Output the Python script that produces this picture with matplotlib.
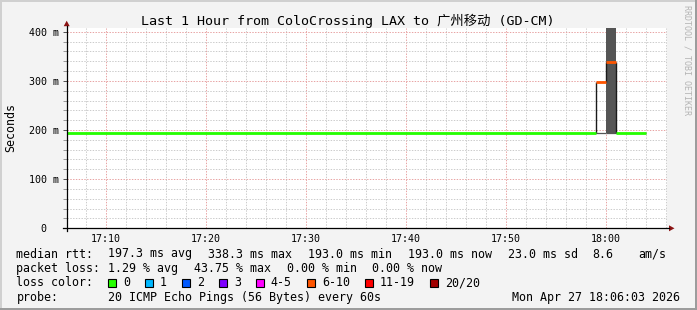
import matplotlib
matplotlib.use("Agg")
import matplotlib.pyplot as plt
from matplotlib.ticker import MultipleLocator, FixedLocator
from matplotlib.patches import Rectangle, Polygon
from matplotlib.lines import Line2D

# ---------------- data ----------------
title = "Last 1 Hour from ColoCrossing LAX to 广州移动 (GD-CM)"
# time in minutes after 17:00
seg_start = [6.05, 59.0, 60.0, 61.0]
seg_end = [59.0, 60.0, 61.0, 64.0]
median_ms = [193.0, 297.5, 338.3, 193.0]
loss_class = [0, 5, 5, 0]
smoke_lo = [193.0, 193.0, 194.5, 193.0]
smoke_hi = [193.0, 193.0, 460.0, 193.0]

x_tick_min = [10, 20, 30, 40, 50, 60]
x_tick_labels = ["17:10", "17:20", "17:30", "17:40", "17:50", "18:00"]
y_ticks = [0, 100, 200, 300, 400]
y_tick_labels = ["  0", "100 m", "200 m", "300 m", "400 m"]

loss_labels = ["0", "1", "2", "3", "4-5", "6-10", "11-19", "20/20"]
loss_colors = ["#26ff00", "#00b8ff", "#0059ff", "#7e00ff", "#ff00ff",
               "#ff5500", "#ff0000", "#a10000"]

rtt_items = ["197.3 ms avg", "338.3 ms max", "193.0 ms min", "193.0 ms now",
             "23.0 ms sd", "8.6", "am/s"]
loss_items = ["1.29 % avg", "43.75 % max", "0.00 % min", "0.00 % now"]
probe_text = "20 ICMP Echo Pings (56 Bytes) every 60s"
date_text = "Mon Apr 27 18:06:03 2026"

# ---------------- layout ----------------
W, H = 697, 310
fig = plt.figure(figsize=(W / 100, H / 100), dpi=100)
fig.patch.set_facecolor("#f3f3f3")

def fx(px):
    return px / W

def fy(py):
    return 1 - py / H

MONO = "DejaVu Sans Mono"
X0, X1 = 66.7, 666.7
Y0, YT = 228.3, 28.0
ax = fig.add_axes([fx(X0), fy(Y0), (X1 - X0) / W, (Y0 - YT) / H])
ax.set_facecolor("white")
ax.set_xlim(6.05, 66.05)
ax.set_ylim(0, 407.5)
for s in ax.spines.values():
    s.set_visible(False)

# grid
ax.xaxis.set_major_locator(FixedLocator(x_tick_min))
ax.xaxis.set_minor_locator(MultipleLocator(2))
ax.yaxis.set_major_locator(FixedLocator(y_ticks))
ax.yaxis.set_minor_locator(MultipleLocator(20))
ax.set_axisbelow(True)
ax.grid(which="minor", color="#cccccc", lw=0.72, linestyle=(0, (1.4, 1.4)))
ax.grid(which="major", color="#e8a4a4", lw=0.72, linestyle=(0, (1.4, 1.4)))

ax.set_xticklabels(x_tick_labels, family=MONO, fontsize=7.2)
ax.set_yticklabels(y_tick_labels, family=MONO, fontsize=7.2, ha="left")
ax.tick_params(axis="x", which="both", length=0, pad=4)
ax.tick_params(axis="y", which="both", direction="out", length=2.6,
               width=0.72, color="#555555", pad=24.2)
ax.tick_params(axis="y", which="minor", color="#9a9a9a")

# smoke
for s0, s1, lo, hi in zip(seg_start, seg_end, smoke_lo, smoke_hi):
    if hi > lo:
        ax.bar(s0, hi - lo, bottom=lo, width=s1 - s0, align="edge",
               color="#555555", lw=0, zorder=2)
    ax.hlines(lo, s0, s1, color="#555555", lw=0.9, zorder=2)

# step verticals of median
for i in range(len(median_ms) - 1):
    ax.vlines(seg_end[i], min(median_ms[i], median_ms[i + 1]),
              max(median_ms[i], median_ms[i + 1]), color="#1a1a1a",
              lw=1.0, zorder=3)

# median coloured by loss
for s0, s1, m, c in zip(seg_start, seg_end, median_ms, loss_class):
    ax.hlines(m, s0, s1, color=loss_colors[c], lw=2.0, zorder=4)

# axis lines and arrows (figure pixels)
ARROW = "#8c1414"
fig.add_artist(Line2D([fx(63), fx(669)], [fy(Y0), fy(Y0)], color="black", lw=0.9))
fig.add_artist(Line2D([fx(X0), fx(X0)], [fy(231), fy(26)], color="black", lw=0.9))
fig.add_artist(Polygon([[fx(669), fy(225.3)], [fx(669), fy(231.3)],
                        [fx(674.5), fy(228.3)]], closed=True, color=ARROW, lw=0))
fig.add_artist(Polygon([[fx(63.7), fy(26.2)], [fx(69.7), fy(26.2)],
                        [fx(66.7), fy(20.7)]], closed=True, color=ARROW, lw=0))

# title / labels
fig.text(fx(348), fy(20.5), title, ha="center", va="center", fontsize=9.6,
         family=[MONO, "Noto Sans CJK SC"])
fig.text(fx(11), fy(127.5), "Seconds", rotation=90, ha="center", va="center",
         fontsize=8.4, family=MONO)
fig.text(fx(687.5), fy(5), "RRDTOOL / TOBI OETIKER", rotation=270,
         ha="center", va="top", fontsize=6.0, family=MONO, color="#b4b4b4")

# legend
LF = 8.4
r1, r2, r3, r4 = 254, 268.5, 283, 297.5
fig.text(fx(16.4), fy(r1), "median rtt:", fontsize=LF, family=MONO, va="center")
for xp, t in zip([107.6, 207.6, 307.6, 407.6, 507.6, 592.4, 637.8], rtt_items):
    fig.text(fx(xp), fy(r1), t, fontsize=LF, family=MONO, va="center")
fig.text(fx(16.4), fy(r2), "packet loss:", fontsize=LF, family=MONO, va="center")
for xp, t in zip([107.6, 193.6, 286.7, 372.4], loss_items):
    fig.text(fx(xp), fy(r2), t, fontsize=LF, family=MONO, va="center")
fig.text(fx(16.4), fy(r3), "loss color:", fontsize=LF, family=MONO, va="center")
box_x = [108.4, 145.3, 182.2, 219.1, 256.0, 307.1, 365.3, 430.2]
for bx, lab, col in zip(box_x, loss_labels, loss_colors):
    fig.add_artist(Rectangle((fx(bx), fy(r3 + 4)), 8 / W, 8 / H,
                             facecolor=col, edgecolor="black", lw=0.8))
    fig.text(fx(bx + 14.7), fy(r3), lab, fontsize=LF, family=MONO, va="center")
fig.text(fx(16.4), fy(r4), "probe:", fontsize=LF, family=MONO, va="center")
fig.text(fx(107.5), fy(r4), probe_text, fontsize=LF, family=MONO, va="center")
fig.text(fx(680), fy(r4), date_text, fontsize=LF, family=MONO, va="center",
         ha="right")

# frame shading
fig.add_artist(Rectangle((0, fy(2)), 1, 2 / H, color="#d0d0d0", lw=0))
fig.add_artist(Rectangle((0, 0), 2 / W, 1, color="#d0d0d0", lw=0))
fig.add_artist(Rectangle((0, 0), 1, 2.5 / H, color="#9c9c9c", lw=0))
fig.add_artist(Rectangle((fx(694.5), 0), 2.5 / W, 1, color="#9c9c9c", lw=0))

fig.savefig("out.png", dpi=100, facecolor=fig.get_facecolor())
